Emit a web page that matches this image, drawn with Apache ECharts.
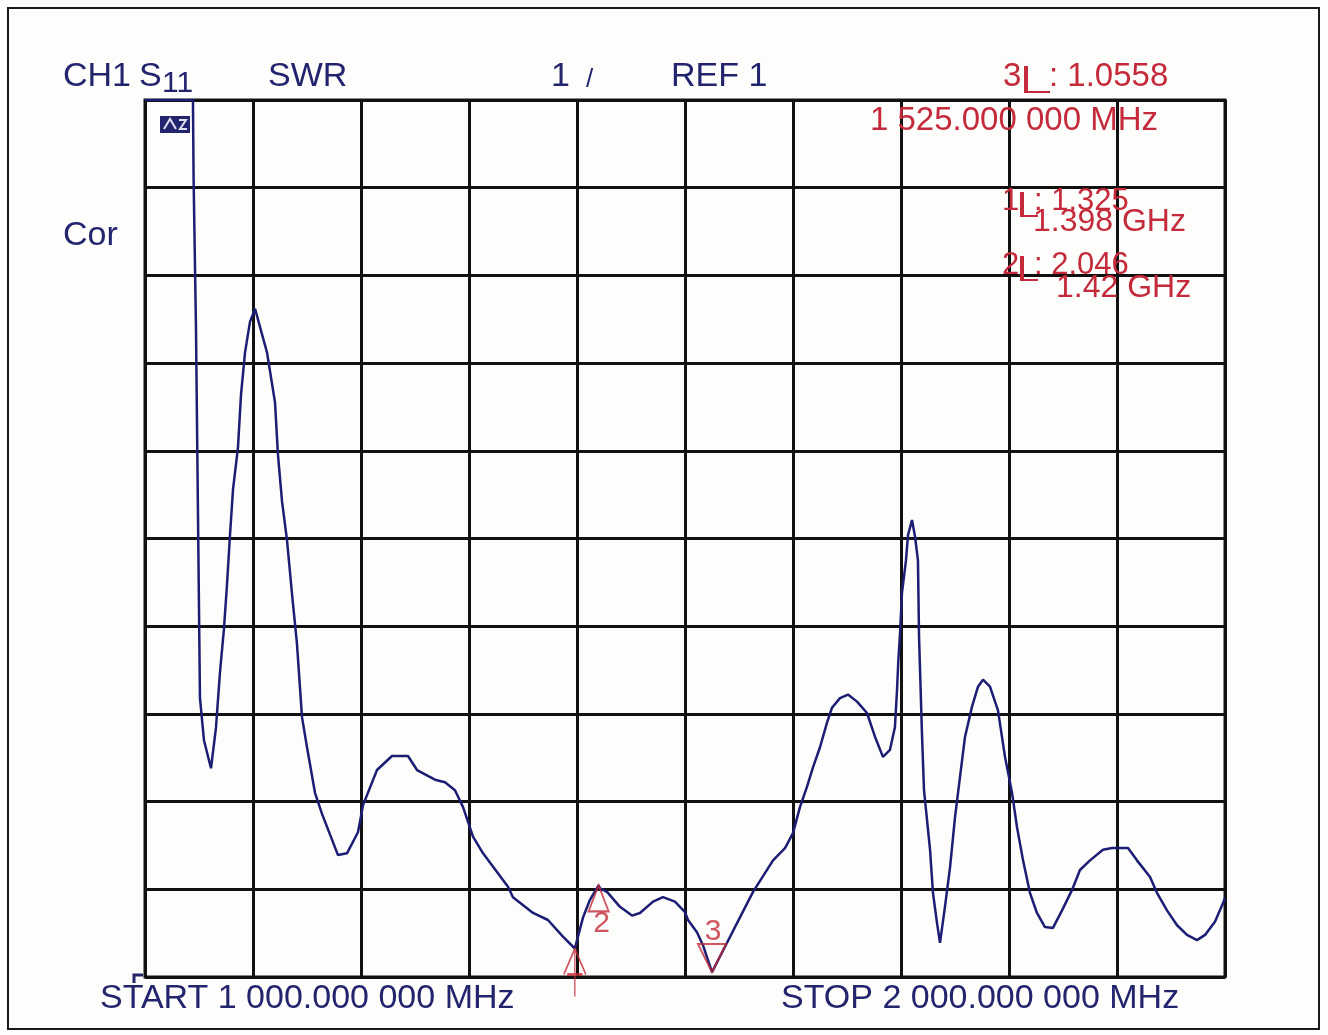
<!DOCTYPE html>
<html>
<head>
<meta charset="utf-8">
<script src="https://cdn.jsdelivr.net/npm/echarts@6/dist/echarts.min.js"></script>
<style>
html,body{margin:0;padding:0;background:#fdfdfb;}
#chart{width:1328px;height:1035px;}
</style>
</head>
<body>
<div id="chart"></div>
<script>
// Sweep frequencies (MHz)
const freqMHz = [1000,1044.4,1045,1047.2,1050.9,1054.6,1061.1,1065.7,1069.4,1073.1,1075.9,1078.7,1081.5,1086.1,1088.9,1092.6,1097.2,1101.9,
 1113,1120.4,1123.1,1126.9,1131.5,1136.1,1140.7,1145.4,1150,1157.4,1163.9,1178.7,1187,1197.2,1201.9,1214.8,1228.7,1243.5,1251.9,1268.5,
 1277.8,1287,1294.4,1303.7,1313,1336.1,1340.7,1359.3,1373.1,1387,1398,1400.9,1405.6,1412,1420,1421.3,1427.8,1439.8,1450.9,1458.3,1470.4,
 1479.6,1490.7,1500,1502.8,1511.1,1516.7,1525,1538.9,1550.9,1563,1581.5,1592.6,1600,1606.5,1613,1618.5,1625,1631.5,1636.1,1643.5,1650.9,
 1659.3,1668.5,1675.9,1683.3,1689.8,1694.4,1696.3,1697.5,1699.1,1700.9,1704.6,1706.5,1710.2,1713,1715.7,1716.7,1719.4,1721.3,1726.9,1729.6,
 1733.3,1736.1,1740.7,1745.4,1750,1754.6,1759.3,1765.7,1771.3,1775.9,1782.4,1789.8,1796.3,1802.8,1807.4,1813,1819.4,1825.9,1833.3,1840.7,
 1849.1,1858.3,1865.7,1875,1887,1895.4,1910.2,1918.5,1930.6,1937,1946.3,1955.6,1964.8,1974.1,1981.5,1990.7,1998.1,2000];
// SWR values at those frequencies
const swrValues = [11,11,10.1,8.4,4.18,3.7,3.38,3.84,4.47,4.97,5.47,6.04,6.56,7.04,7.64,8.12,8.47,8.62,
 8.12,7.55,6.96,6.42,5.98,5.37,4.8,3.96,3.62,3.1,2.86,2.39,2.41,2.65,2.96,3.36,3.52,3.52,3.36,3.25,
 3.22,3.13,2.94,2.6,2.41,2.03,1.91,1.73,1.65,1.46,1.325,1.46,1.68,1.88,2.046,2.01,1.97,1.8,1.7,1.73,1.86,
 1.91,1.86,1.74,1.65,1.51,1.36,1.056,1.39,1.68,1.97,2.33,2.47,2.64,2.94,3.17,3.39,3.62,3.9,4.07,4.18,4.22,
 4.14,4.01,3.74,3.51,3.59,3.85,4.27,4.6,4.92,5.38,5.75,6.04,6.21,6.02,5.75,4.88,3.78,3.13,2.45,1.96,
 1.62,1.39,1.8,2.25,2.82,3.28,3.74,4.08,4.31,4.39,4.31,4.04,3.51,3.1,2.71,2.33,1.96,1.73,1.57,1.56,
 1.76,1.99,2.22,2.33,2.45,2.47,2.47,2.33,2.14,1.96,1.76,1.59,1.48,1.42,1.48,1.63,1.84,1.9];
// Markers
const markerNames = ['1','2','3'];
const markerFreq = [1398,1420,1525];
const markerSwr = [1.325,2.046,1.0558];
// Axis scale
const startMHz = 1000, stopMHz = 2000, freqDiv = 100;
const refSwr = 1, swrTop = 11, swrDiv = 1;
// Texts
const headerTexts = ['CH1','S','11','SWR','1','/','REF 1','Cor'];
const startText = 'START 1 000.000 000 MHz';
const stopText = 'STOP 2 000.000 000 MHz';
const activeMarkerFreqText = '1 525.000 000 MHz';
const markerFreqTexts = ['1.398 GHz','1.42 GHz'];

const NAVY = '#23246e';
const RED = '#c42a3a';
const FONT = '"Liberation Sans", Arial, sans-serif';

const tracePairs = freqMHz.map((f,i)=>[f, swrValues[i]]);

const chart = echarts.init(document.getElementById('chart'), null, {renderer:'canvas'});

function txt(x,y,s,color,size,extra){
  return Object.assign({type:'text', x:x, y:y, z:50, style:{text:s, fill:color, font: (size||34)+'px '+FONT, textVerticalAlign:'middle', textAlign:'left'}}, extra||{});
}
function lSym(x,y,h,w){
  return [
    {type:'rect', z:50, shape:{x:x, y:y-h/2, width:4, height:h}, style:{fill:RED}},
    {type:'line', z:50, shape:{x1:x, y1:y+h/2, x2:x+w, y2:y+h/2}, style:{stroke:RED, lineWidth:2}}
  ];
}

const graphics = [
  {type:'rect', z:40, shape:{x:8, y:8, width:1311, height:1021}, style:{fill:'none', stroke:'#1a1a1a', lineWidth:2}},
  txt(63,77,headerTexts[0],NAVY,34),
  txt(139,77,headerTexts[1],NAVY,34),
  txt(162,84,headerTexts[2],NAVY,30),
  txt(268,77,headerTexts[3],NAVY,34),
  txt(551,77,headerTexts[4],NAVY,34),
  txt(586,80,headerTexts[5],NAVY,26),
  txt(671,77,headerTexts[6],NAVY,34),
  txt(63,236,headerTexts[7],NAVY,34),
  txt(100,999,startText,NAVY,34),
  txt(781,999,stopText,NAVY,34),
  // active marker readout
  txt(1003,77,markerNames[2],RED,33),
  ...lSym(1024,79,26,26),
  txt(1049,77,': ' + markerSwr[2].toFixed(4),RED,33),
  txt(870,121,activeMarkerFreqText,RED,33),
  // marker 1 readout
  txt(1002,201,markerNames[0],RED,31),
  ...lSym(1020,204,24,18),
  txt(1034,201,': ' + markerSwr[0].toFixed(3),RED,31),
  txt(1033,222,markerFreqTexts[0],RED,32),
  // marker 2 readout
  txt(1002,265,markerNames[1],RED,31),
  ...lSym(1020,268,24,18),
  txt(1034,265,': ' + markerSwr[1].toFixed(3),RED,31),
  txt(1056,288,markerFreqTexts[1],RED,32),
  // small status icon
  {type:'rect', z:50, shape:{x:160,y:116,width:30,height:17}, style:{fill:NAVY}},
  {type:'polyline', z:51, shape:{points:[[164,129],[170,119],[176,129]]}, style:{stroke:'#dfe0f0', lineWidth:2, fill:'none'}},
  {type:'polyline', z:51, shape:{points:[[179,120],[186,120],[180,129],[187,129]]}, style:{stroke:'#dfe0f0', lineWidth:2, fill:'none'}},
  {type:'polyline', z:51, shape:{points:[[134,983],[134,975],[143,975]]}, style:{stroke:NAVY, lineWidth:3, fill:'none'}}
];

const option = {
  backgroundColor:'#fdfdfb',
  animation:false,
  grid:{left:145, top:100, width:1080, height:877, show:true, borderColor:'#111', borderWidth:3, backgroundColor:'transparent'},
  xAxis:{type:'value', min:startMHz, max:stopMHz, interval:freqDiv,
    axisLine:{show:false}, axisTick:{show:false}, axisLabel:{show:false},
    splitLine:{show:true, lineStyle:{color:'#111', width:3}}},
  yAxis:{type:'value', min:refSwr, max:swrTop, interval:swrDiv,
    axisLine:{show:false}, axisTick:{show:false}, axisLabel:{show:false},
    splitLine:{show:true, lineStyle:{color:'#111', width:3}}},
  series:[
    {type:'line', data:tracePairs, showSymbol:false, clip:true, z:5,
      lineStyle:{color:'#1c1d74', width:2.5}},
    {type:'scatter', z:6, silent:true,
      data:[[markerFreq[0], markerSwr[0]]],
      symbol:'path://M10,0 L0,26 M10,0 L20,26 M10,0 L10,48 M3,26 L17,26',
      symbolSize:[22,48], symbolOffset:[0,24],
      itemStyle:{color:'transparent', borderColor:RED, borderWidth:2}},
    {type:'scatter', z:6, silent:true,
      data:[[markerFreq[1], markerSwr[1]]],
      symbol:'path://M10,0 L0,24 L20,24 Z',
      symbolSize:[20,26], symbolOffset:[0,13],
      itemStyle:{color:'transparent', borderColor:RED, borderWidth:2},
      label:{show:true, formatter:markerNames[1], position:'bottom', distance:0, offset:[3,-4], color:RED, fontSize:30, fontFamily:FONT}},
    {type:'scatter', z:6, silent:true,
      data:[[markerFreq[2], markerSwr[2]]],
      symbol:'path://M0,0 L28,0 L14,28 Z',
      symbolSize:[28,28], symbolOffset:[0,-14],
      itemStyle:{color:'transparent', borderColor:RED, borderWidth:2},
      label:{show:true, formatter:markerNames[2], position:'top', distance:0, offset:[1,4], color:RED, fontSize:30, fontFamily:FONT}}
  ],
  graphic: graphics
};
chart.setOption(option);
</script>
</body>
</html>
